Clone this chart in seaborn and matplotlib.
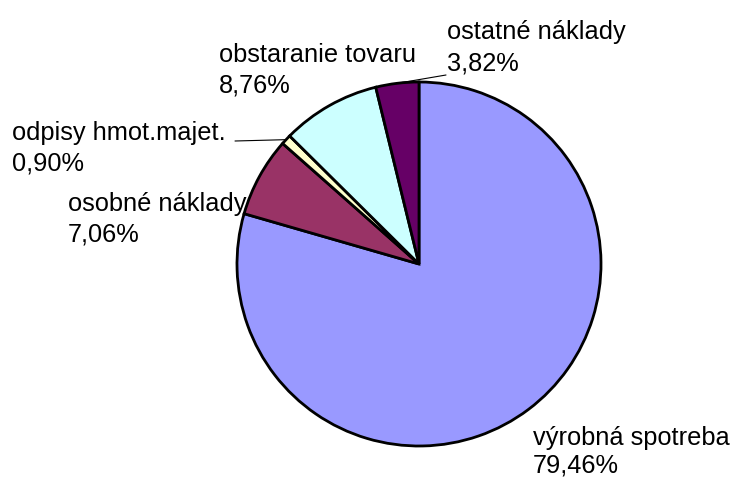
import numpy as np
import matplotlib
matplotlib.use("Agg")
import matplotlib.pyplot as plt
import seaborn as sns

categories = ["výrobná spotreba", "osobné náklady", "odpisy hmot.majet.",
              "obstaranie tovaru", "ostatné náklady"]
values = [79.46, 7.06, 0.90, 8.76, 3.82]
pct_labels = ["79,46%", "7,06%", "0,90%", "8,76%", "3,82%"]
colors = ["#9999FF", "#993366", "#FFFFCC", "#CCFFFF", "#660066"]

sns.set_theme(style="white")
plt.rcParams["font.family"] = ["Liberation Sans", "DejaVu Sans"]

W, H = 733, 479
fig = plt.figure(figsize=(W / 100, H / 100), dpi=100)
fig.patch.set_facecolor("white")

cx, cy, r = 419, 264, 182
ax = fig.add_axes([(cx - r) / W, (H - cy - r) / H, 2 * r / W, 2 * r / H])
wedges, _ = ax.pie(values, colors=colors, startangle=90, counterclock=False,
                   radius=1, wedgeprops=dict(edgecolor="black", linewidth=2))
ax.set_aspect("equal")
ax.axis("off")
ax.set_xlim(-1, 1)
ax.set_ylim(-1, 1)
for w in wedges:
    w.set_clip_on(False)

def fx(px):
    return px / W

def fy(py):
    return 1 - py / H

# label positions (pixels: left x, baseline of line 1, baseline of line 2)
label_pos = {
    "výrobná spotreba": (533, 445, 473),
    "osobné náklady": (68, 211, 242),
    "odpisy hmot.majet.": (12, 140, 171),
    "obstaranie tovaru": (219, 62, 93),
    "ostatné náklady": (447, 39, 70),
}
for cat, pct in zip(categories, pct_labels):
    x, y1, y2 = label_pos[cat]
    fig.text(fx(x), fy(y1), cat, ha="left", va="baseline",
             fontsize=18.3, color="black")
    fig.text(fx(x), fy(y2), pct, ha="left", va="baseline",
             fontsize=18.3, color="black")

# leader lines from wedge mid-angle to label
cum = np.cumsum([0] + values[:-1])
total = sum(values)
leader_end = {"odpisy hmot.majet.": (235, 141), "ostatné náklady": (446, 75)}
for cat, start, v in zip(categories, cum, values):
    if cat in leader_end:
        ang = np.deg2rad(90 - (start + v / 2) / total * 360)
        px0 = cx + r * np.cos(ang)
        py0 = cy - r * np.sin(ang)
        ex, ey = leader_end[cat]
        fig.add_artist(plt.Line2D([fx(px0), fx(ex)], [fy(py0), fy(ey)],
                                  color="black", linewidth=0.8))

fig.savefig("out.png", dpi=100)
